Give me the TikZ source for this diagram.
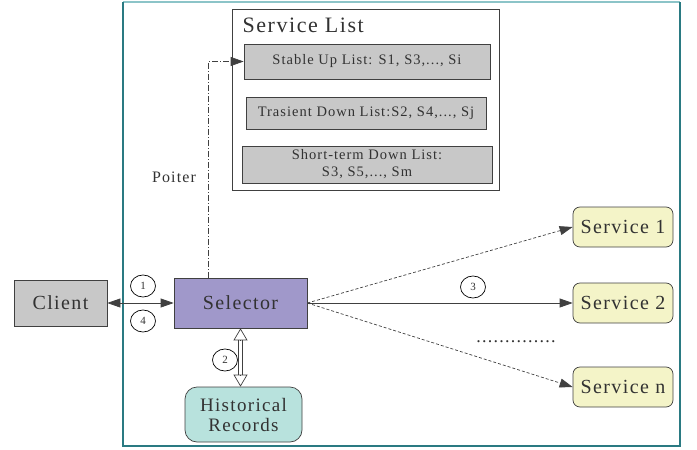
\documentclass[tikz,border=0pt]{standalone}
\usepackage{fontspec}
\setmainfont{Liberation Serif}[LetterSpace=7]
\usetikzlibrary{arrows.meta,shapes.geometric}

\definecolor{framecol}{RGB}{42,122,130}
\definecolor{framelight}{RGB}{140,196,200}
\definecolor{boxgray}{RGB}{200,200,200}
\definecolor{selpurple}{RGB}{160,152,202}
\definecolor{histteal}{RGB}{184,226,221}
\definecolor{svcyellow}{RGB}{244,244,200}
\definecolor{inkgray}{RGB}{50,50,50}

\tikzstyle{bigbox}=[draw=black!75,inner sep=0pt,text=inkgray,font=\fontsize{20}{20}\selectfont]
\tikzstyle{listbox}=[draw=black!75,fill=boxgray,inner sep=0pt,align=center,text=inkgray,font=\fontsize{14.5}{17}\selectfont]
\tikzstyle{svcbox}=[bigbox,fill=svcyellow,rounded corners=7pt,minimum width=100pt,minimum height=40pt]
\tikzstyle{stepnum}=[draw,ellipse,minimum width=25pt,minimum height=22pt,inner sep=0pt,text=inkgray,font=\fontsize{11}{11}\selectfont]
\tikzstyle{tip}=[-{Triangle[length=13pt,width=9pt]}]
\tikzstyle{opentip}=[-{Triangle[open,length=12pt,width=14pt]}]
\tikzstyle{fine}=[dash pattern=on 3pt off 2pt]

\begin{document}
\begin{tikzpicture}[x=1pt,y=-1pt,line width=0.7pt]
    \useasboundingbox (0,0) rectangle (697,450);
    \draw[framelight,line width=1.6pt] (123,2) -- (680,2);
    \draw[framecol,line width=1.4pt] (680,2) -- (680,446) -- (123,446) -- (123,2);

    \node[draw=black!75,minimum width=267pt,minimum height=181pt,inner sep=0pt] (list) at (365.5,99.5) {};
    \node[text=inkgray,font=\fontsize{22}{22}\selectfont,anchor=west] (title) at (239,25) {Service List};
    \node[listbox,minimum width=246pt,minimum height=35pt] (stable) at (367,61.5) {Stable Up List: S1, S3,..., Si};
    \node[listbox,minimum width=240pt,minimum height=32pt] (trans) at (366,113) {Trasient Down List:S2, S4,..., Sj};
    \node[listbox,minimum width=250pt,minimum height=37pt] (short) at (367,164.5) {Short-term Down List:\\S3, S5,..., Sm};

    \node[bigbox,fill=boxgray,minimum width=93pt,minimum height=46pt] (client) at (60.5,303) {Client};
    \node[bigbox,fill=selpurple,minimum width=133pt,minimum height=50pt] (selector) at (240.5,303) {Selector};
    \node[bigbox,fill=histteal,rounded corners=12pt,minimum width=117pt,minimum height=55pt,align=center,font=\fontsize{19}{20}\selectfont] (hist) at (243.5,414.5) {Historical\\Records};

    \node[svcbox] (svc1) at (623,227) {Service 1};
    \node[svcbox] (svc2) at (623,303) {Service 2};
    \node[svcbox] (svcn) at (623,387) {Service n};

    \node[stepnum] (s1) at (143,286) {1};
    \node[stepnum] (s4) at (143,321) {4};
    \node[stepnum] (s2) at (225,360) {2};
    \node[stepnum] (s3) at (473,287) {3};

    \node[text=inkgray,font=\fontsize{16}{16}\selectfont] (ptr) at (174,177) {Poiter};
    \node[text=inkgray,font=\fontsize{18}{18}\selectfont] (more) at (516,342) {..............};

    \draw[{Triangle[length=13pt,width=9pt]}-{Triangle[length=13pt,width=9pt]},black!75] (client) -- (selector);
    \draw[tip,dash pattern=on 6pt off 2pt on 1pt off 2pt,black!75] ([xshift=-32pt]selector.north) |- (stable.west);

    % double shaft with open heads at both ends
    \coordinate (up) at (selector.south);
    \coordinate (down) at (selector.south |- hist.north);
    \draw[black!75] ([xshift=-2pt,yshift=-12pt]up) -- ([xshift=-2pt,yshift=12pt]down)
                    ([xshift=2pt,yshift=-12pt]up) -- ([xshift=2pt,yshift=12pt]down);
    \draw[opentip,black!75] ([yshift=-12pt]up) -- (up);
    \draw[opentip,black!75] ([yshift=12pt]down) -- (down);

    \foreach \to/\how in {svc1/fine,svc2/solid,svcn/fine}
    \draw[tip,\how,black!75] (selector.east) -- (\to.west);
\end{tikzpicture}
\end{document}
